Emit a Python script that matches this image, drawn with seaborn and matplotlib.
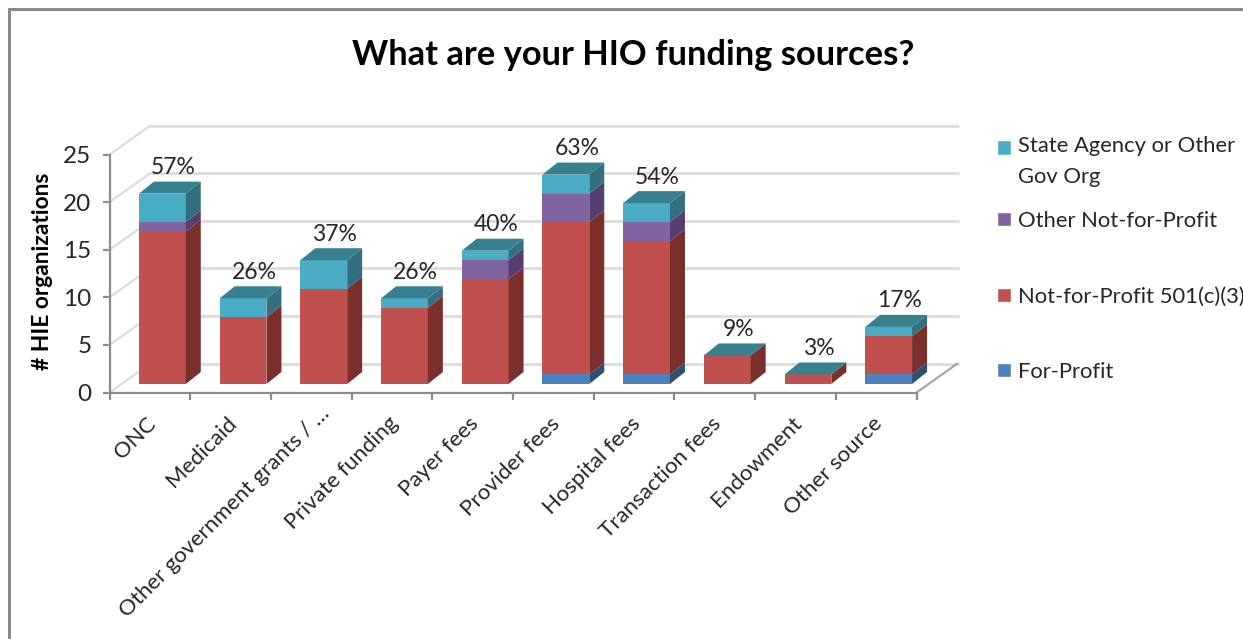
import numpy as np
import pandas as pd
import seaborn as sn
import matplotlib.pyplot as plt
from matplotlib.lines import Line2D
from matplotlib.patches import Patch
from matplotlib.transforms import ScaledTranslation

categorias = ["ONC", "Medicaid", "Other government grants / …", "Private funding", "Payer fees",
              "Provider fees", "Hospital fees", "Transaction fees", "Endowment", "Other source"]
for_profit = [0, 0, 0, 0, 0, 1, 1, 0, 0, 1]
nfp_501 = [16, 7, 10, 8, 11, 16, 14, 3, 1, 4]
other_nfp = [1, 0, 0, 0, 2, 3, 2, 0, 0, 0]
state_agency = [3, 2, 3, 1, 1, 2, 2, 0, 0, 1]
percentuais = ["57%", "26%", "37%", "26%", "40%", "63%", "54%", "9%", "3%", "17%"]

series = ["For-Profit", "Not-for-Profit 501(c)(3)", "Other Not-for-Profit", "State Agency or Other\nGov Org"]
valores = [for_profit, nfp_501, other_nfp, state_agency]
cores = ["#4F81BD", "#C0504D", "#8064A2", "#4BACC6"]
cores_lado = ["#2F4F77", "#7A2F2D", "#553F6E", "#33707F"]
cor_topo = "#37808F"
cor_eixo = "#8C8C8C"
cor_grade = "#DCDCDC"
cor_texto = "#262626"

W, H = 1243, 639

sn.set_theme(style="white")
plt.rcParams['font.family'] = ['Lato', 'DejaVu Sans']

fig = plt.figure(figsize=(W / 100, H / 100), dpi=100)
ax = fig.add_axes([109.5 / W, 1 - 392.5 / H, 807 / W, 238 / H])

# profundidade da parede e das barras, em unidades de dados
wall_x, wall_y = 41 / 80.7, 29 / 9.52
bar_dx, bar_dy = 15 / 80.7, 12 / 9.52
off_x, off_y = 12.5 / 80.7, 8.5 / 9.52
bar_w = 0.58

ax.set_xlim(-0.5, 9.5)
ax.set_ylim(0, 25)

# paredes e grade
for v in range(0, 30, 5):
    ax.plot([-0.5, -0.5 + wall_x], [v, v + wall_y], color=cor_grade, lw=1.6, clip_on=False, zorder=1)
    ax.plot([-0.5 + wall_x, 9.5 + wall_x], [v + wall_y, v + wall_y], color=cor_grade, lw=2, clip_on=False, zorder=1)
ax.plot([9.5, 9.5 + wall_x], [0, wall_y], color="#A6A6A6", lw=1.6, clip_on=False, zorder=1)

# barras empilhadas
base = np.zeros(len(categorias)) + off_y
for s, vals, cor, lado in zip(series, valores, cores, cores_lado):
    vals = np.array(vals, dtype=float)
    df = pd.DataFrame({"cat": categorias, "val": vals})
    n_antes = len(ax.patches)
    sn.barplot(data=df, x="cat", y="val", order=categorias, bottom=base, color=cor, saturation=1,
               width=bar_w, ax=ax, zorder=3, linewidth=0, label=s)
    for i, p in enumerate(ax.patches[n_antes:]):
        p.set_x(p.get_x() + off_x)
        if vals[i] > 0:
            x1 = p.get_x() + bar_w
            b, t = base[i], base[i] + vals[i]
            ax.fill([x1, x1 + bar_dx, x1 + bar_dx, x1], [b, b + bar_dy, t + bar_dy, t],
                    color=lado, lw=0, zorder=3, clip_on=False)
    base = base + vals

# topo das barras e percentuais
for i, pct in enumerate(percentuais):
    x0 = i - bar_w / 2 + off_x
    t = base[i]
    ax.fill([x0, x0 + bar_w, x0 + bar_w + bar_dx, x0 + bar_dx], [t, t, t + bar_dy, t + bar_dy],
            color=cor_topo, lw=0, zorder=3, clip_on=False)
    ax.annotate(pct, (i + off_x, t), xytext=(11, 26), textcoords="offset pixels", ha="center", va="center",
                fontsize=16.5, color=cor_texto, zorder=5, annotation_clip=False)

# eixos
sn.despine(ax=ax)
for lado in ["left", "bottom"]:
    ax.spines[lado].set_color(cor_eixo)
    ax.spines[lado].set_linewidth(1.6)
ax.set_yticks(range(0, 30, 5))
ax.set_xticks(range(len(categorias)))
ax.set_xticklabels(categorias, rotation=45, ha="right", rotation_mode="anchor")
ax.set_xticks(np.arange(-0.5, 10), minor=True)
ax.tick_params(axis="x", which="major", length=0, pad=15, labelsize=16, labelcolor=cor_texto)
ax.tick_params(axis="x", which="minor", length=5, width=1.6, color=cor_eixo, bottom=True)
ax.tick_params(axis="y", length=5, width=1.6, color=cor_eixo, left=True, pad=8, labelsize=17.5, labelcolor=cor_texto)
ax.set_xlabel("")
ax.set_ylabel("")
ax.patch.set_alpha(0)
if ax.get_legend() is not None:
    ax.get_legend().remove()

# ajuste fino dos rótulos inclinados, o terceiro vai mais longe
for i, lab in enumerate(ax.get_xticklabels()):
    dx_lab = 8 if i == 2 else -4
    dy_lab = 10 if i == 2 else 0
    lab.set_transform(lab.get_transform() + ScaledTranslation(dx_lab / 100, dy_lab / 100, fig.dpi_scale_trans))

fig.text(43 / W, 1 - 271 / H, "# HIE organizations", rotation=90, ha="center", va="center",
         fontsize=16.4, fontweight="bold", color="black")
fig.text(633.5 / W, 1 - 55 / H, "What are your HIO funding sources?", ha="center", va="center",
         fontsize=24.8, fontweight="bold", color="black")

# legenda em dois blocos, o primeiro rótulo ocupa duas linhas
def legenda(idx, y_top, spacing=0.0):
    h = [Patch(facecolor=cores[k], label=series[k]) for k in idx]
    leg = fig.legend(handles=h, loc="upper left", bbox_to_anchor=(997 / W, 1 - y_top / H), frameon=False,
                     fontsize=15.8, labelcolor=cor_texto, handlelength=0.62, handleheight=0.62, handletextpad=0.35,
                     borderpad=0, borderaxespad=0, labelspacing=spacing, alignment="left")
    return leg

leg_topo = legenda([3], 136)
leg_topo.get_texts()[0].set_linespacing(1.7)
leg_topo.get_patches()[0].set_y(leg_topo.get_patches()[0].get_y() + 10.4)
legenda([2, 1, 0], 211, spacing=2.53)

# moldura do gráfico
fig.add_artist(Line2D([9 / W, 9 / W], [0, 1 - 9 / H], color="#8A8A8A", lw=2.2))
fig.add_artist(Line2D([9 / W, 1], [1 - 9 / H, 1 - 9 / H], color="#8A8A8A", lw=2.2))

plt.savefig("out.png", dpi=100)
